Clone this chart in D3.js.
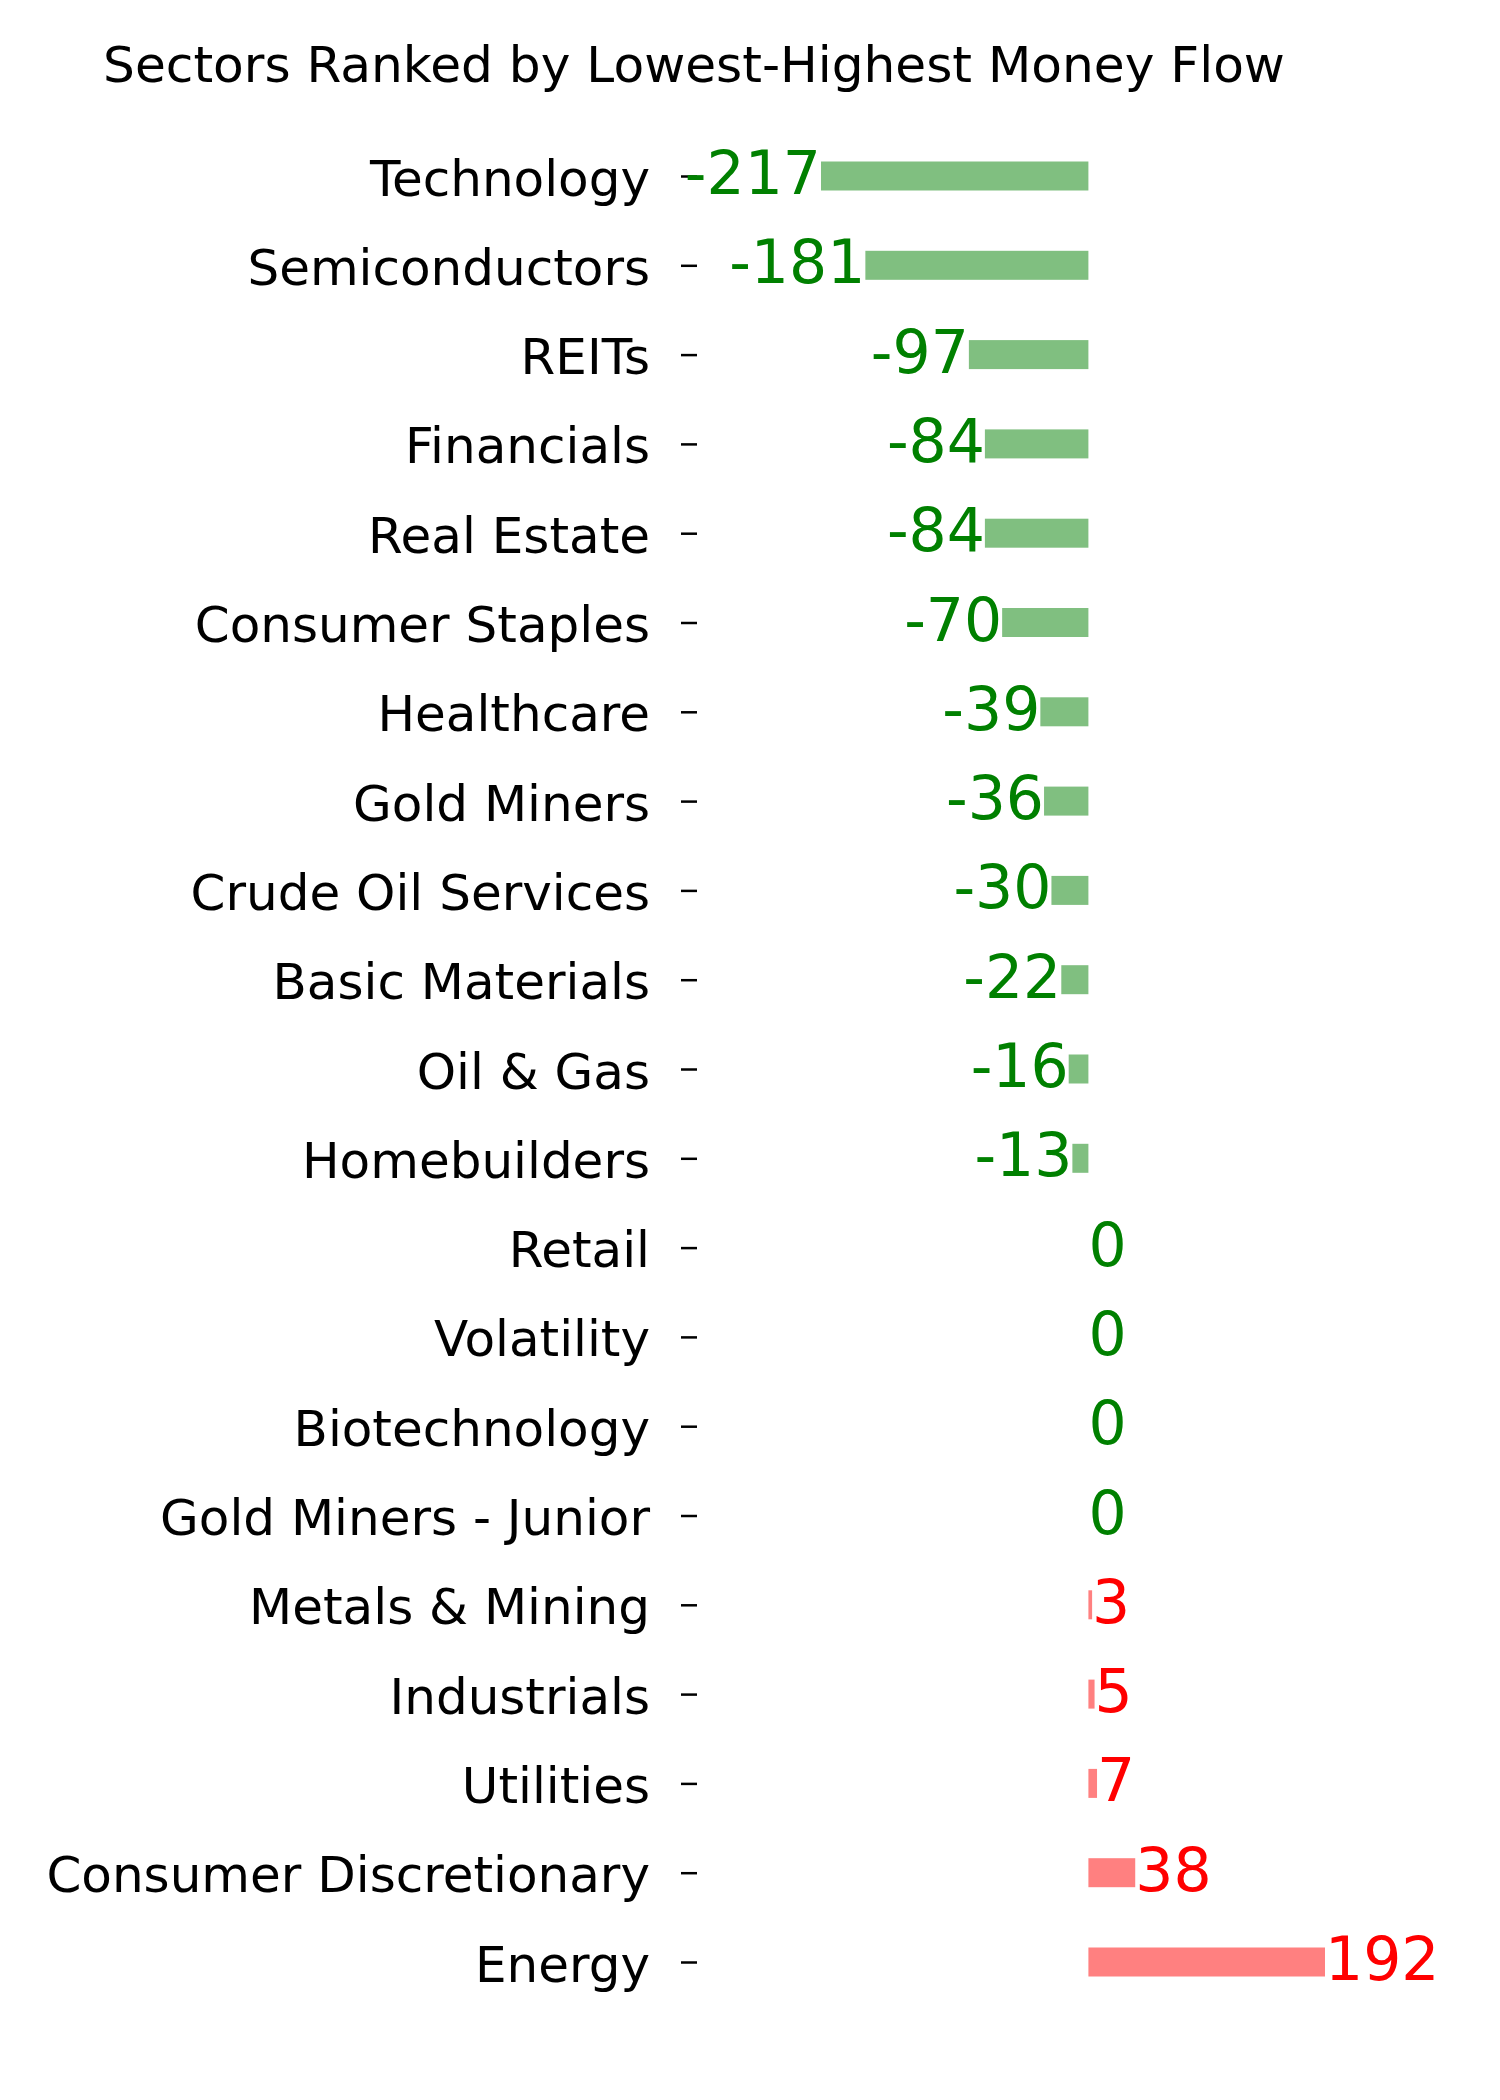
<!DOCTYPE html>
<html>
<head>
<meta charset="utf-8">
<script src="https://cdn.jsdelivr.net/npm/d3@7"></script>
<style>
  body { margin: 0; background: #fff; }
  svg { font-family: "DejaVu Sans", sans-serif; }
</style>
</head>
<body>
<div class="chartContainer"></div>
<script>
var sectors = ["Technology", "Semiconductors", "REITs", "Financials", "Real Estate",
  "Consumer Staples", "Healthcare", "Gold Miners", "Crude Oil Services", "Basic Materials",
  "Oil & Gas", "Homebuilders", "Retail", "Volatility", "Biotechnology",
  "Gold Miners - Junior", "Metals & Mining", "Industrials", "Utilities",
  "Consumer Discretionary", "Energy"];
var moneyFlow = [-217, -181, -97, -84, -84, -70, -39, -36, -30, -22, -16, -13,
  0, 0, 0, 0, 3, 5, 7, 38, 192];
var chartTitle = "Sectors Ranked by Lowest-Highest Money Flow";

var width = 1500;
var height = 2100;

var svg = d3.select(".chartContainer")
  .append("svg")
    .attr("width", width)
    .attr("height", height);

var data = sectors.map(function(s, i) { return {name: s, value: moneyFlow[i]}; });

var x = d3.scaleLinear()
    .domain(d3.extent(moneyFlow))
    .range([821, 1325]);

var y = d3.scalePoint()
    .domain(sectors)
    .range([176, 1962]);

// ======= title ========

svg.append("text")
    .attr("x", 694)
    .attr("y", 82)
    .attr("text-anchor", "middle")
    .style("font-size", "50.2px")
    .style("fill", "#000")
    .text(chartTitle);

// ======= y axis (labels + ticks) ========

var yAxis = d3.axisLeft(y).tickSize(16).tickPadding(31);

var axisG = svg.append("g")
    .attr("transform", "translate(697,0)")
    .call(yAxis);

axisG.select(".domain").remove();
axisG.selectAll(".tick line")
    .style("stroke", "#000")
    .style("stroke-width", 2.5);
axisG.selectAll(".tick text")
    .attr("dy", null)
    .attr("y", 19)
    .style("font-family", "DejaVu Sans")
    .style("font-size", "50px")
    .style("fill", "#000");

// ======= bars ========

svg.append("g").selectAll(".bar")
    .data(data)
  .enter().append("rect")
    .attr("class", "bar")
    .attr("x", function(d) { return Math.min(x(d.value), x(0)); })
    .attr("y", function(d) { return y(d.name) - 14.5; })
    .attr("width", function(d) { return Math.abs(x(d.value) - x(0)); })
    .attr("height", 29)
    .style("fill", function(d) { return d.value > 0 ? "#ff8080" : "#80bf80"; });

// ======= value labels ========

svg.append("g").selectAll(".valueLabel")
    .data(data)
  .enter().append("text")
    .attr("class", "valueLabel")
    .attr("x", function(d) { return x(d.value); })
    .attr("y", function(d) { return y(d.name) + 18; })
    .attr("text-anchor", function(d) { return d.value < 0 ? "end" : "start"; })
    .style("font-size", "60px")
    .style("fill", function(d) { return d.value > 0 ? "#ff0000" : "#008000"; })
    .text(function(d) { return d.value; });
</script>
</body>
</html>
